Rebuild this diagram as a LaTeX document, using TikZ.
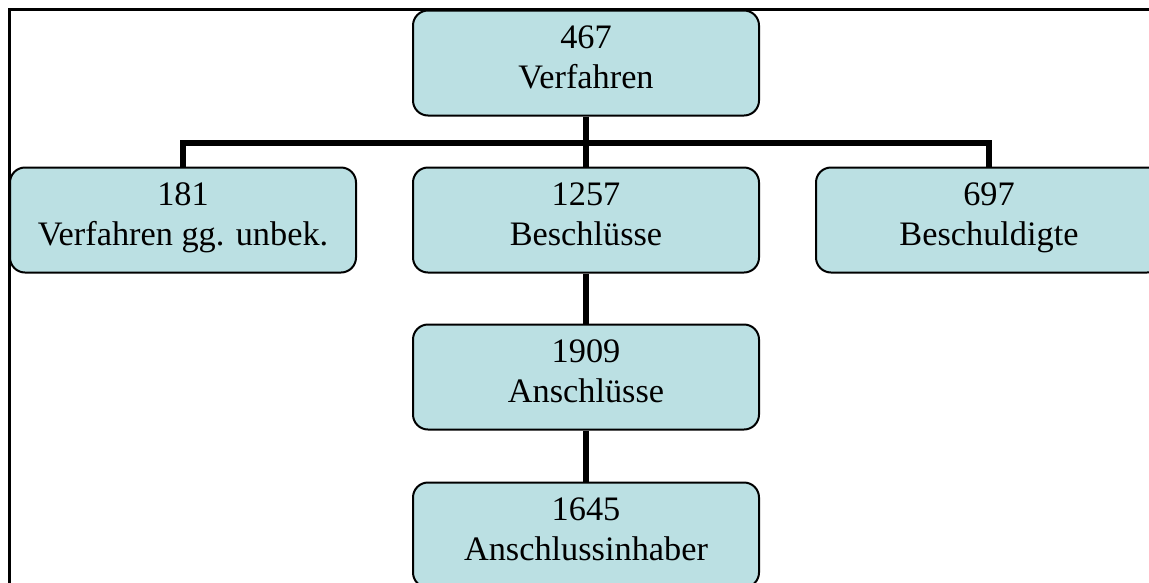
\documentclass[tikz,border=0pt]{standalone}
\usepackage{fontspec}
\setmainfont{Liberation Serif}
\usetikzlibrary{calc}

\definecolor{boxblue}{RGB}{187,224,227}

\begin{document}
\begin{tikzpicture}[x=1pt, y=-1pt,
	box/.style={draw, line width=2pt, rounded corners=15pt, fill=boxblue,
		minimum width=346pt, minimum height=105pt, inner sep=0pt, align=center,
		text height=64pt, text depth=13pt, font=\fontsize{34.3}{40}\selectfont},
	link/.style={line width=5.5pt, line join=miter}]

\useasboundingbox (0,0) rectangle (1149,582);
\clip (0,0) rectangle (1149,582);

% frame
\draw[line width=2.5pt] (9.5,600) -- (9.5,9.5) -- (1170,9.5);

% boxes
\node[box] (total)    at (586,63)  {467\\Verfahren};
\node[box] (unbek)    at (183,220) {181\\Verfahren gg. unbek.};
\node[box] (beschl)   at (586,220) {1257\\Beschlüsse};
\node[box] (beschuld) at (989,220) {697\\Beschuldigte};
\node[box] (anschl)   at (586,377) {1909\\Anschlüsse};
\node[box] (inhaber)  at (586,535) {1645\\Anschlussinhaber};

% connectors
\coordinate (bar) at (586,143);
\draw[link] (total.south) -- (beschl.north);
\draw[link] (unbek.north) |- (bar) -| (beschuld.north);
\draw[link] (beschl.south) -- (anschl.north);
\draw[link] (anschl.south) -- (inhaber.north);

\end{tikzpicture}
\end{document}
